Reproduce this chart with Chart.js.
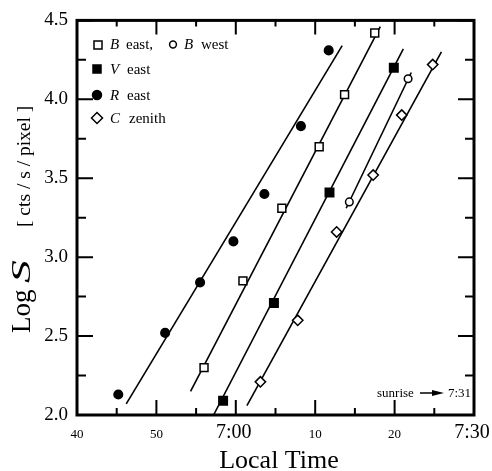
<!DOCTYPE html>
<html>
<head>
<meta charset="utf-8">
<title>Log S vs local time</title>
<script src="https://cdn.jsdelivr.net/npm/chart.js@4/dist/chart.umd.min.js"></script>
<style>
  html, body { margin: 0; padding: 0; background: #fff; }
  #wrap { width: 492px; height: 471px; }
</style>
</head>
<body>
<div id="wrap"><canvas id="chart" width="492" height="471"></canvas></div>
<script>
/* Dawn sky brightness: log S against local time (x = minutes past 6:00) */

const R_EAST_T = [45.2, 51.1, 55.5, 59.7, 63.6, 68.2, 71.7];
const R_EAST_S = [2.13, 2.52, 2.84, 3.10, 3.40, 3.83, 4.31];
const B_EAST_T = [56.0, 60.9, 65.8, 70.5, 73.7, 77.5];
const B_EAST_S = [2.30, 2.85, 3.31, 3.70, 4.03, 4.42];
const V_EAST_T = [58.4, 64.8, 71.8, 79.9];
const V_EAST_S = [2.09, 2.71, 3.41, 4.20];
const B_WEST_T = [74.3, 81.7];
const B_WEST_S = [3.35, 4.13];
const C_ZEN_T  = [63.1, 67.8, 72.7, 77.3, 80.9, 84.8];
const C_ZEN_S  = [2.21, 2.60, 3.16, 3.52, 3.90, 4.22];

/* fitted lines, start and end */
const FIT_R_T = [46.2, 73.4],  FIT_R_S = [2.07, 4.34];
const FIT_BE_T = [54.3, 78.2], FIT_BE_S = [2.15, 4.46];
const FIT_V_T = [57.2, 81.1],  FIT_V_S = [2.00, 4.32];
const FIT_BW_T = [73.9, 82.1], FIT_BW_S = [3.31, 4.17];
const FIT_C_T = [61.4, 85.9],  FIT_C_S = [2.06, 4.30];

const X_TICKS  = [40, 50, 60, 70, 80, 90];
const X_LABELS = ['40', '50', '7:00', '10', '20', '7:30'];
const X_MINOR  = [45, 55, 65, 75, 85];
const Y_TICKS  = [2.0, 2.5, 3.0, 3.5, 4.0, 4.5];
const Y_LABELS = ['2.0', '2.5', '3.0', '3.5', '4.0', '4.5'];
const Y_MINOR  = [2.25, 2.75, 3.25, 3.75, 4.25];

const SERIF = "'Liberation Serif', 'Times New Roman', serif";
Chart.defaults.font.family = SERIF;
Chart.defaults.color = '#000';

function pts(ts, ss) {
  return ts.map((t, i) => ({ x: t, y: ss[i] }));
}

function markers(label, ts, ss, style, radius, filled) {
  return {
    label, data: pts(ts, ss), showLine: false,
    pointStyle: style, pointRadius: radius, pointHoverRadius: radius,
    pointBorderWidth: 1.5, pointBorderColor: '#000',
    pointBackgroundColor: filled ? '#000' : '#fff',
  };
}

function fit(label, ts, ss) {
  return {
    label, data: pts(ts, ss), showLine: true, pointRadius: 0,
    borderColor: '#000', borderWidth: 1.6,
  };
}

/* legend marker shapes, drawn by hand */
function mark(ctx, kind, x, y) {
  ctx.beginPath();
  if (kind === 'sq' || kind === 'sqf') ctx.rect(x - 4, y - 4, 8, 8);
  else if (kind === 'ci' || kind === 'cif') ctx.arc(x, y, kind === 'cif' ? 4.5 : 3.4, 0, Math.PI * 2);
  else if (kind === 'dia') { ctx.moveTo(x - 5.5, y); ctx.lineTo(x, y - 5.5); ctx.lineTo(x + 5.5, y); ctx.lineTo(x, y + 5.5); ctx.closePath(); }
  ctx.fillStyle = (kind === 'sqf' || kind === 'cif') ? '#000' : '#fff';
  ctx.fill();
  ctx.lineWidth = 1.5;
  ctx.stroke();
  ctx.fillStyle = '#000';
}

function txt(ctx, s, x, y, font) {
  ctx.font = font;
  ctx.fillText(s, x, y);
}

const decor = {
  id: 'decor',
  afterDatasetsDraw(chart) {
    const { ctx, chartArea: a, scales: { x, y } } = chart;
    ctx.save();
    ctx.strokeStyle = '#000';
    ctx.fillStyle = '#000';

    /* frame */
    ctx.lineWidth = 3;
    ctx.strokeRect(a.left, a.top, a.right - a.left, a.bottom - a.top);

    /* inward ticks */
    ctx.lineWidth = 2;
    ctx.beginPath();
    const xt = (v, b, t) => {
      const px = x.getPixelForValue(v);
      ctx.moveTo(px, a.bottom); ctx.lineTo(px, a.bottom - b);
      ctx.moveTo(px, a.top);    ctx.lineTo(px, a.top + t);
    };
    const yt = (v, l) => {
      const py = y.getPixelForValue(v);
      ctx.moveTo(a.left, py);  ctx.lineTo(a.left + l, py);
      ctx.moveTo(a.right, py); ctx.lineTo(a.right - l, py);
    };
    X_TICKS.forEach(v => xt(v, 15, 14));
    X_MINOR.forEach(v => xt(v, 7, 6));
    Y_TICKS.forEach(v => yt(v, 16));
    Y_MINOR.forEach(v => yt(v, 9));
    ctx.stroke();

    /* x tick labels, shared baseline */
    ctx.textAlign = 'center';
    ctx.textBaseline = 'alphabetic';
    X_TICKS.forEach((v, i) => {
      const big = X_LABELS[i].includes(':');
      txt(ctx, X_LABELS[i], x.getPixelForValue(v) - (big ? 2 : 0), a.bottom + 22.5, (big ? '20px ' : '13px ') + SERIF);
    });

    /* x title */
    txt(ctx, 'Local Time', 279, 468, '26px ' + SERIF);

    /* y title, rotated */
    ctx.save();
    ctx.translate(30, 0);
    ctx.rotate(-Math.PI / 2);
    ctx.textAlign = 'left';
    txt(ctx, 'Log', -333, 0, '27px ' + SERIF);
    ctx.save();
    ctx.translate(-283, 0);
    ctx.scale(1.7, 1);
    txt(ctx, 'S', 0, 0, 'italic 27px ' + SERIF);
    ctx.restore();
    txt(ctx, '[ cts / s / pixel ]', -227, 0, '19.5px ' + SERIF);
    ctx.restore();

    /* legend */
    ctx.textAlign = 'left';
    const it = 'italic 15px ' + SERIF, rm = '15px ' + SERIF;
    mark(ctx, 'sq', 98, 45);
    txt(ctx, 'B', 110, 49, it); txt(ctx, 'east,', 126, 49, rm);
    mark(ctx, 'ci', 173, 44.5);
    txt(ctx, 'B', 184, 49, it); txt(ctx, 'west', 201, 49, rm);
    mark(ctx, 'sqf', 97, 69);
    txt(ctx, 'V', 110, 74, it); txt(ctx, 'east', 127, 74, rm);
    mark(ctx, 'cif', 97, 95);
    txt(ctx, 'R', 110, 100, it); txt(ctx, 'east', 127, 100, rm);
    mark(ctx, 'dia', 97, 118);
    txt(ctx, 'C', 110, 123, it); txt(ctx, 'zenith', 129, 123, rm);

    /* sunrise note */
    txt(ctx, 'sunrise', 377, 396.5, '13px ' + SERIF);
    ctx.lineWidth = 1.5;
    ctx.beginPath();
    ctx.moveTo(420, 393); ctx.lineTo(434, 393);
    ctx.stroke();
    ctx.beginPath();
    ctx.moveTo(432, 390); ctx.lineTo(444, 393); ctx.lineTo(432, 396); ctx.closePath();
    ctx.fill();
    txt(ctx, '7:31', 448, 396.5, '13px ' + SERIF);

    ctx.restore();
  },
};

new Chart(document.getElementById('chart'), {
  type: 'scatter',
  data: {
    datasets: [
      markers('B east', B_EAST_T, B_EAST_S, 'rect', 5.6, false),
      markers('B west', B_WEST_T, B_WEST_S, 'circle', 3.8, false),
      markers('V east', V_EAST_T, V_EAST_S, 'rect', 6, true),
      markers('R east', R_EAST_T, R_EAST_S, 'circle', 4.3, true),
      markers('C zenith', C_ZEN_T, C_ZEN_S, 'rectRot', 5.2, false),
      fit('R fit', FIT_R_T, FIT_R_S),
      fit('B east fit', FIT_BE_T, FIT_BE_S),
      fit('V fit', FIT_V_T, FIT_V_S),
      fit('B west fit', FIT_BW_T, FIT_BW_S),
      fit('C fit', FIT_C_T, FIT_C_S),
    ],
  },
  options: {
    responsive: false,
    animation: false,
    layout: { padding: { top: 20, right: 18, left: 0, bottom: 0 } },
    plugins: { legend: { display: false }, tooltip: { enabled: false } },
    scales: {
      x: {
        type: 'linear', min: 40, max: 90,
        grid: { display: false, drawTicks: false }, border: { display: false },
        ticks: { display: false },
        afterFit: s => { s.height = 56; },
      },
      y: {
        type: 'linear', min: 2, max: 4.5,
        grid: { display: false, drawTicks: false }, border: { display: false },
        afterBuildTicks: s => { s.ticks = Y_TICKS.map(v => ({ value: v })); },
        ticks: {
          padding: 9,
          font: { size: 19, family: SERIF },
          color: '#000',
          callback: v => Y_LABELS[Y_TICKS.indexOf(v)],
        },
        afterFit: s => { s.width = 77; },
      },
    },
  },
  plugins: [decor],
});
</script>
</body>
</html>
